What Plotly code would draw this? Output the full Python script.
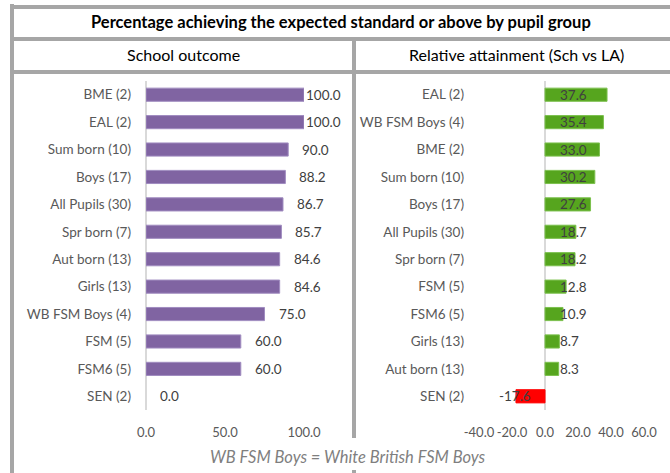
import plotly.graph_objects as go

W, H = 670, 473

# ---- data ----
left_cats = ["BME (2)", "EAL (2)", "Sum born (10)", "Boys (17)", "All Pupils (30)", "Spr born (7)",
             "Aut born (13)", "Girls (13)", "WB FSM Boys (4)", "FSM (5)", "FSM6 (5)", "SEN (2)"]
left_vals = [100.0, 100.0, 90.0, 88.2, 86.7, 85.7, 84.6, 84.6, 75.0, 60.0, 60.0, 0.0]

right_cats = ["EAL (2)", "WB FSM Boys (4)", "BME (2)", "Sum born (10)", "Boys (17)", "All Pupils (30)",
              "Spr born (7)", "FSM (5)", "FSM6 (5)", "Girls (13)", "Aut born (13)", "SEN (2)"]
right_vals = [37.6, 35.4, 33.0, 30.2, 27.6, 18.7, 18.2, 12.8, 10.9, 8.7, 8.3, -17.6]

left_ticks = [0, 50, 100]
right_ticks = [-40, -20, 0, 20, 40, 60]

title_text = "Percentage achieving the expected standard or above by pupil group"
left_header = "School outcome"
right_header = "Relative attainment (Sch vs LA)"
footnote = "WB FSM Boys = White British FSM Boys"

FONT = "Lato"
PURPLE = "#8064A2"
GREEN = "#56A51E"
RED = "#FF0000"
GRID = "#A6A6A6"
TXT = "#595959"
LBL = "#404040"


def px(x):
    return x / W


def py(y):
    return 1 - y / H


fig = go.Figure()
fig.add_trace(go.Bar(
    x=left_vals, y=left_cats, orientation="h", xaxis="x", yaxis="y",
    marker=dict(color=PURPLE, line=dict(color=["#A08CC0" if v > 0 else "rgba(0,0,0,0)" for v in left_vals],
                                        width=1)),
    width=0.48, hoverinfo="x+y", showlegend=False))
fig.add_trace(go.Bar(
    x=right_vals, y=right_cats, orientation="h", xaxis="x2", yaxis="y2",
    marker=dict(color=[GREEN if v >= 0 else RED for v in right_vals],
                line=dict(color=["#7CC04E" if v >= 0 else RED for v in right_vals], width=1)),
    width=0.48, hoverinfo="x+y", showlegend=False))

ydom = [py(410), py(81)]
axis_common = dict(showgrid=False, ticks="", tickangle=0, automargin=False,
                   tickfont=dict(family=FONT, size=13, color=TXT),
                   zeroline=True, zerolinecolor="#D9D9D9", zerolinewidth=2,
                   showline=False, fixedrange=True, ticklabelstandoff=13)
yaxis_common = dict(showgrid=False, ticks="", autorange="reversed", zeroline=False, automargin=False,
                    tickfont=dict(family=FONT, size=13.5, color=TXT), showline=False,
                    fixedrange=True, ticklabelstandoff=14)

fig.update_layout(
    width=W, height=H, margin=dict(l=0, r=0, t=0, b=0, autoexpand=False),
    paper_bgcolor="white", plot_bgcolor="rgba(0,0,0,0)",
    bargap=0.5,
    xaxis=dict(domain=[px(146), px(304)], range=[0, 100], tickvals=left_ticks,
               ticktext=[f"{t:.1f}" for t in left_ticks], anchor="y", **axis_common),
    yaxis=dict(domain=ydom, anchor="x", **yaxis_common),
    xaxis2=dict(domain=[px(479), px(644)], range=[-40, 60], tickvals=right_ticks,
                ticktext=[f"{t:.1f}" for t in right_ticks], anchor="y2", **axis_common),
    yaxis2=dict(domain=ydom, anchor="x2", **yaxis_common),
)

annotations = []
for c, v in zip(left_cats, left_vals):
    annotations.append(dict(x=v, y=c, xref="x", yref="y", text=f"{v:.1f}", showarrow=False,
                            xanchor="left", xshift=0 if v >= 100 else 12,
                            font=dict(family=FONT, size=13.5, color=LBL)))
for c, v in zip(right_cats, right_vals):
    annotations.append(dict(x=0, y=c, xref="x2", yref="y2", text=f"{v:.1f}", showarrow=False,
                            xanchor="left" if v >= 0 else "right", xshift=13 if v >= 0 else -12,
                            font=dict(family=FONT, size=13.5, color=LBL)))

def paper_text(x, y, text, size, color):
    return dict(x=px(x), y=py(y), xref="paper", yref="paper", text=text, showarrow=False,
                xanchor="center", yanchor="middle", font=dict(family=FONT, size=size, color=color))

annotations.append(paper_text(341, 22, f"<b>{title_text}</b>", 16.5, "#000000"))
annotations.append(paper_text(183, 55, left_header, 16, "#000000"))
annotations.append(paper_text(516, 55, right_header, 16, "#000000"))
annotations.append(paper_text(348, 457, f"<i>{footnote}</i>", 16.5, "#7F7F7F"))
fig.update_layout(annotations=annotations)

shapes = []
for yy in (7, 39, 72):
    shapes.append(dict(type="line", xref="paper", yref="paper", x0=px(10), x1=1, y0=py(yy), y1=py(yy),
                       line=dict(color=GRID, width=4)))
shapes.append(dict(type="line", xref="paper", yref="paper", x0=px(12), x1=px(12), y0=py(4), y1=0,
                   line=dict(color=GRID, width=4)))
shapes.append(dict(type="line", xref="paper", yref="paper", x0=px(354), x1=px(354), y0=py(39), y1=py(438),
                   line=dict(color=GRID, width=4)))
shapes.append(dict(type="line", xref="paper", yref="paper", x0=px(354), x1=px(354), y0=py(470), y1=0,
                   line=dict(color=GRID, width=4)))
fig.update_layout(shapes=shapes)

fig.write_html("out.html", config={"displayModeBar": False},
               post_script="document.body.style.margin='0';document.body.style.overflow='hidden';")
